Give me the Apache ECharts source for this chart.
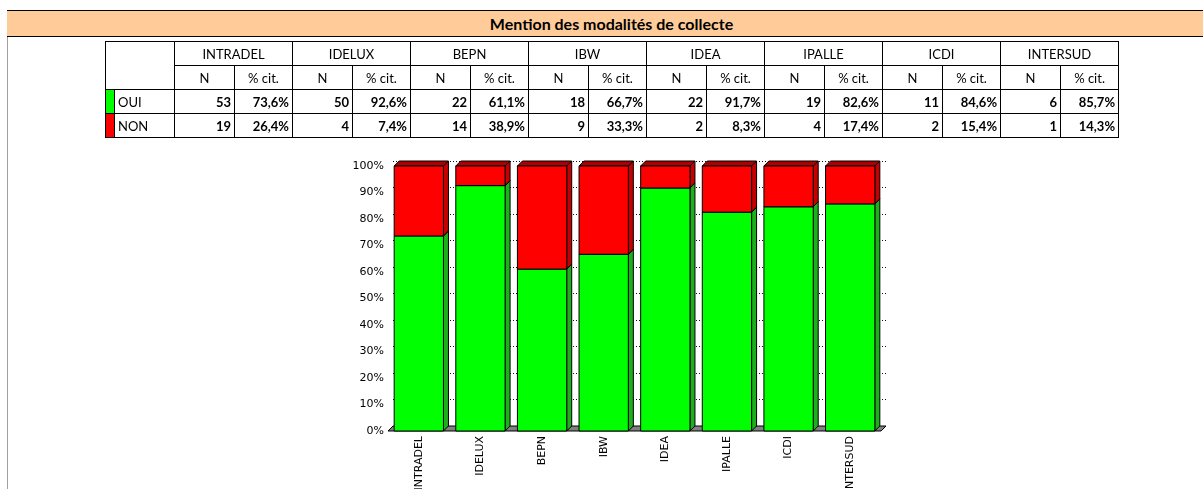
<!DOCTYPE html>
<html>
<head>
<meta charset="utf-8">
<script src="https://cdn.jsdelivr.net/npm/echarts@6/dist/echarts.min.js"></script>
<style>
  body { margin: 0; background: #fff; width: 1203px; height: 489px; overflow: hidden; position: relative; font-family: Lato, "Open Sans", sans-serif; }
  #chart { position: absolute; left: 0; top: 0; width: 1203px; height: 489px; }
  #head { position: absolute; left: 7px; top: 10px; width: 1196px; height: 25px; background: #ffcc99; border-top: 1px solid #000; border-bottom: 1px solid #000; }
  #head span { position: absolute; left: 98px; width: 1013px; top: 3px; text-align: center; font-weight: bold; font-size: 16px; color: #000; }
  #leftline { position: absolute; left: 7px; top: 37px; width: 1px; height: 452px; background: #a0a0a0; }
  #tab { position: absolute; left: 105px; top: 41px; border-collapse: collapse; table-layout: fixed; width: 1013px; font-size: 13px; color: #000; }
  #tab td { border: 1px solid #000; height: 24px; padding: 0 3px; white-space: nowrap; overflow: hidden; box-sizing: border-box; }
  #tab td.c { text-align: center; }
  #tab td.r { text-align: right; font-weight: bold; }
  #tab td.sw { padding: 0; }
</style>
</head>
<body>
<div id="chart"></div>
<div id="head"><span>Mention des modalités de collecte</span></div>
<div id="leftline"></div>
<table id="tab"></table>
<script>
// données du tableau
var categories = ["INTRADEL", "IDELUX", "BEPN", "IBW", "IDEA", "IPALLE", "ICDI", "INTERSUD"];
var ouiN = [53, 50, 22, 18, 22, 19, 11, 6];
var ouiPct = [73.6, 92.6, 61.1, 66.7, 91.7, 82.6, 84.6, 85.7];
var nonN = [19, 4, 14, 9, 2, 4, 2, 1];
var nonPct = [26.4, 7.4, 38.9, 33.3, 8.3, 17.4, 15.4, 14.3];
var yTicks = [0, 10, 20, 30, 40, 50, 60, 70, 80, 90, 100];

function pct(v) {
  return v.toFixed(1).replace(".", ",") + "%";
}

//tableau
function buildTable() {
  var h = '<colgroup><col style="width:9px"><col style="width:60px">';
  for (var i = 0; i < categories.length; i++) {
    h += '<col style="width:60px"><col style="width:58px">';
  }
  h += '</colgroup>';
  h += '<tr><td colspan="2" rowspan="2"></td>';
  categories.forEach(function (c) { h += '<td class="c" colspan="2">' + c + '</td>'; });
  h += '</tr><tr>';
  categories.forEach(function () { h += '<td class="c">N</td><td class="c">% cit.</td>'; });
  h += '</tr><tr><td class="sw" style="background:#00ff00"></td><td>OUI</td>';
  categories.forEach(function (c, i) { h += '<td class="r">' + ouiN[i] + '</td><td class="r">' + pct(ouiPct[i]) + '</td>'; });
  h += '</tr><tr><td class="sw" style="background:#ff0000"></td><td>NON</td>';
  categories.forEach(function (c, i) { h += '<td class="r">' + nonN[i] + '</td><td class="r">' + pct(nonPct[i]) + '</td>'; });
  h += '</tr>';
  document.getElementById("tab").innerHTML = h;
}
buildTable();

var depth = 5;

function bar3d(front, side, top) {
  return function (params, api) {
    var i = api.value(0);
    var p0 = api.coord([i, api.value(1)]);
    var p1 = api.coord([i, api.value(2)]);
    var w = api.size([1, 0])[0] * 0.8;
    var x = p0[0] - w / 2;
    var yb = p0[1], yt = p1[1], d = depth;
    return {
      type: "group",
      children: [
        { type: "polygon", shape: { points: [[x + w, yt], [x + w + d, yt - d], [x + w + d, yb - d], [x + w, yb]] }, style: { fill: side, stroke: "#000", lineWidth: 1 } },
        { type: "polygon", shape: { points: [[x, yt], [x + d, yt - d], [x + w + d, yt - d], [x + w, yt]] }, style: { fill: top, stroke: "#000", lineWidth: 1 } },
        { type: "rect", shape: { x: x, y: yt, width: w, height: yb - yt }, style: { fill: front, stroke: "#000", lineWidth: 1 } }
      ]
    };
  };
}

function floor(params, api) {
  var c = params.coordSys, d = depth;
  var yb = c.y + c.height;
  return {
    type: "polygon",
    shape: { points: [[c.x, yb], [c.x + d, yb - d], [c.x + c.width + d, yb - d], [c.x + c.width, yb]] },
    style: { fill: "#808080", stroke: "#000", lineWidth: 1 }
  };
}

var chart = echarts.init(document.getElementById("chart"));
var font = "DejaVu Sans";
var option = {
  animation: false,
  grid: [
    { left: 388, right: 322, top: 166, bottom: 58, outerBoundsMode: "none", containLabel: false },
    { left: 388 + depth, right: 322 - depth, top: 166 - depth, bottom: 58 + depth, outerBoundsMode: "none", containLabel: false }
  ],
  xAxis: [
    {
      type: "category", data: categories, gridIndex: 0,
      axisLine: { show: false }, axisTick: { show: false },
      axisLabel: { rotate: 90, fontFamily: font, fontSize: 11, color: "#000", margin: 5, interval: 0 }
    },
    { type: "value", gridIndex: 1, show: false, min: 0, max: 1 }
  ],
  yAxis: [
    {
      type: "value", gridIndex: 0, min: 0, max: 100, interval: 10,
      axisLine: { show: false }, axisTick: { show: false }, splitLine: { show: false },
      axisLabel: {
        fontFamily: font, fontSize: 11, color: "#000", margin: 4,
        formatter: function (v) { return yTicks.indexOf(v) >= 0 ? v + "%" : ""; }
      }
    },
    {
      type: "value", gridIndex: 1, min: 0, max: 100, interval: 10,
      axisLine: { show: false }, axisTick: { show: false }, axisLabel: { show: false },
      splitLine: { show: true, lineStyle: { color: "#111", type: [1, 2], width: 1 } }
    }
  ],
  series: [
    { type: "custom", name: "sol", xAxisIndex: 0, yAxisIndex: 0, data: [[0]], renderItem: floor, clip: false, silent: true },
    {
      type: "custom", name: "OUI", xAxisIndex: 0, yAxisIndex: 0, clip: false,
      data: categories.map(function (c, i) { return [i, 0, ouiPct[i]]; }),
      renderItem: bar3d("#00ff00", "#1cb01c", "#0c8a0c")
    },
    {
      type: "custom", name: "NON", xAxisIndex: 0, yAxisIndex: 0, clip: false,
      data: categories.map(function (c, i) { return [i, ouiPct[i], ouiPct[i] + nonPct[i]]; }),
      renderItem: bar3d("#ff0000", "#c40000", "#ad0000")
    }
  ]
};
chart.setOption(option);
</script>
</body>
</html>
